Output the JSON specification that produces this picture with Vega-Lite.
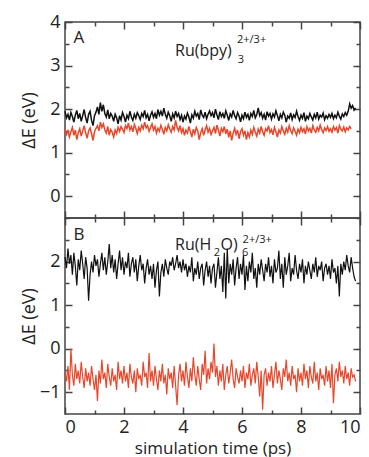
{
"$schema": "https://vega.github.io/schema/vega-lite/v6.json",
"padding": {"left": 19, "top": 12, "right": 2, "bottom": 0},
"spacing": 0,
"bounds": "flush",
"config": {
  "view": {"stroke": "#444", "strokeWidth": 1.5},
  "font": "Open Sans",
  "axis": {"domain": false, "grid": false, "labelFont": "Open Sans", "labelFontSize": 18, "titleFont": "Open Sans", "titleFontSize": 18, "titleFontWeight": "normal", "tickColor": "#444", "tickWidth": 1.5, "labelColor": "#222", "titleColor": "#222"},
  "text": {"font": "Open Sans", "color": "#222"}
},
"datasets": {
"lab": [
{"p":"A","k":"big","x":0.47,"y":3.63,"txt":"A"},
{"p":"A","k":"main","x":3.73,"y":3.33,"txt":"Ru(bpy)"},
{"p":"A","k":"small","x":5.86,"y":3.12,"txt":"3"},
{"p":"A","k":"small","x":5.83,"y":3.58,"txt":"2+/3+"},
{"p":"B","k":"big","x":0.47,"y":2.61,"txt":"B"},
{"p":"B","k":"main","x":3.73,"y":2.38,"txt":"Ru(H"},
{"p":"B","k":"small","x":5.04,"y":2.2,"txt":"2"},
{"p":"B","k":"main","x":5.27,"y":2.38,"txt":"O)"},
{"p":"B","k":"small","x":6.0,"y":2.2,"txt":"6"},
{"p":"B","k":"small","x":6.02,"y":2.49,"txt":"2+/3+"}
],
"d": [
{"t":0,"a1":1.95,"a2":1.55,"b1":2.10,"b2":-0.55},
{"t":0.05,"a1":1.80,"a2":1.42,"b1":1.85,"b2":-0.75},
{"t":0.1,"a1":1.88,"a2":1.50,"b1":2.30,"b2":-0.40},
{"t":0.15,"a1":1.75,"a2":1.36,"b1":1.95,"b2":-0.95},
{"t":0.2,"a1":1.92,"a2":1.48,"b1":2.15,"b2":0.00},
{"t":0.25,"a1":1.83,"a2":1.58,"b1":1.70,"b2":-0.60},
{"t":0.3,"a1":1.70,"a2":1.40,"b1":2.20,"b2":-0.85},
{"t":0.35,"a1":1.86,"a2":1.52,"b1":1.90,"b2":-0.35},
{"t":0.4,"a1":1.97,"a2":1.30,"b1":1.45,"b2":-0.70},
{"t":0.45,"a1":1.78,"a2":1.46,"b1":2.05,"b2":-0.50},
{"t":0.5,"a1":1.90,"a2":1.55,"b1":1.80,"b2":-0.80},
{"t":0.55,"a1":1.72,"a2":1.38,"b1":2.25,"b2":-0.30},
{"t":0.6,"a1":1.85,"a2":1.50,"b1":1.95,"b2":-0.65},
{"t":0.65,"a1":1.99,"a2":1.62,"b1":1.60,"b2":-0.90},
{"t":0.7,"a1":1.80,"a2":1.45,"b1":2.10,"b2":-0.45},
{"t":0.75,"a1":1.68,"a2":1.33,"b1":1.85,"b2":-0.75},
{"t":0.8,"a1":1.88,"a2":1.50,"b1":1.10,"b2":-0.55},
{"t":0.85,"a1":1.95,"a2":1.57,"b1":1.70,"b2":-0.85},
{"t":0.9,"a1":1.74,"a2":1.44,"b1":2.00,"b2":-0.40},
{"t":0.95,"a1":1.62,"a2":1.28,"b1":1.75,"b2":-0.70},
{"t":1,"a1":1.85,"a2":1.48,"b1":2.15,"b2":-0.95},
{"t":1.05,"a1":1.93,"a2":1.56,"b1":1.90,"b2":-0.60},
{"t":1.1,"a1":2.05,"a2":1.62,"b1":2.05,"b2":-1.20},
{"t":1.15,"a1":1.88,"a2":1.50,"b1":1.65,"b2":-0.50},
{"t":1.2,"a1":2.15,"a2":1.70,"b1":1.95,"b2":-0.80},
{"t":1.25,"a1":1.95,"a2":1.58,"b1":2.20,"b2":-0.25},
{"t":1.3,"a1":2.10,"a2":1.66,"b1":1.80,"b2":-0.70},
{"t":1.35,"a1":1.90,"a2":1.52,"b1":2.10,"b2":-0.55},
{"t":1.4,"a1":1.82,"a2":1.45,"b1":1.70,"b2":-0.90},
{"t":1.45,"a1":1.98,"a2":1.60,"b1":2.00,"b2":-0.35},
{"t":1.5,"a1":1.78,"a2":1.40,"b1":2.40,"b2":-0.65},
{"t":1.55,"a1":1.90,"a2":1.53,"b1":1.85,"b2":-0.85},
{"t":1.6,"a1":1.84,"a2":1.47,"b1":2.15,"b2":-0.45},
{"t":1.65,"a1":1.72,"a2":1.36,"b1":1.75,"b2":-0.75},
{"t":1.7,"a1":1.88,"a2":1.52,"b1":2.05,"b2":-0.60},
{"t":1.75,"a1":1.80,"a2":1.44,"b1":1.60,"b2":-0.95},
{"t":1.8,"a1":1.66,"a2":1.58,"b1":1.95,"b2":-0.30},
{"t":1.85,"a1":1.85,"a2":1.49,"b1":2.25,"b2":-0.70},
{"t":1.9,"a1":1.75,"a2":1.60,"b1":1.80,"b2":-0.50},
{"t":1.95,"a1":1.92,"a2":1.54,"b1":2.10,"b2":-0.80},
{"t":2,"a1":1.83,"a2":1.46,"b1":1.70,"b2":-0.40},
{"t":2.05,"a1":1.70,"a2":1.62,"b1":2.00,"b2":-0.75},
{"t":2.1,"a1":1.86,"a2":1.55,"b1":1.85,"b2":-0.55},
{"t":2.15,"a1":1.78,"a2":1.68,"b1":2.20,"b2":-0.90},
{"t":2.2,"a1":1.95,"a2":1.52,"b1":1.65,"b2":-0.35},
{"t":2.25,"a1":1.82,"a2":1.60,"b1":1.95,"b2":-0.65},
{"t":2.3,"a1":1.74,"a2":1.48,"b1":2.10,"b2":-0.80},
{"t":2.35,"a1":1.88,"a2":1.65,"b1":1.75,"b2":-0.50},
{"t":2.4,"a1":1.79,"a2":1.56,"b1":2.05,"b2":-1.00},
{"t":2.45,"a1":1.92,"a2":1.44,"b1":1.55,"b2":-0.45},
{"t":2.5,"a1":1.85,"a2":1.58,"b1":1.90,"b2":-0.70},
{"t":2.55,"a1":1.76,"a2":1.50,"b1":2.15,"b2":-0.60},
{"t":2.6,"a1":1.90,"a2":1.63,"b1":1.80,"b2":-0.85},
{"t":2.65,"a1":1.83,"a2":1.55,"b1":1.95,"b2":-0.30},
{"t":2.7,"a1":1.97,"a2":1.70,"b1":1.50,"b2":-0.65},
{"t":2.75,"a1":1.80,"a2":1.57,"b1":1.85,"b2":-0.55},
{"t":2.8,"a1":1.88,"a2":1.62,"b1":2.05,"b2":-0.90},
{"t":2.85,"a1":1.73,"a2":1.49,"b1":1.70,"b2":-0.10},
{"t":2.9,"a1":1.86,"a2":1.58,"b1":1.90,"b2":-0.75},
{"t":2.95,"a1":1.94,"a2":1.66,"b1":1.60,"b2":-0.50},
{"t":3,"a1":1.81,"a2":1.52,"b1":1.95,"b2":-0.85},
{"t":3.05,"a1":1.90,"a2":1.60,"b1":1.40,"b2":-0.40},
{"t":3.1,"a1":1.78,"a2":1.45,"b1":1.80,"b2":-0.70},
{"t":3.15,"a1":1.99,"a2":1.56,"b1":2.00,"b2":-0.95},
{"t":3.2,"a1":1.86,"a2":1.49,"b1":1.20,"b2":-0.50},
{"t":3.25,"a1":1.95,"a2":1.63,"b1":1.75,"b2":-0.75},
{"t":3.3,"a1":1.84,"a2":1.54,"b1":1.95,"b2":-0.35},
{"t":3.35,"a1":2.02,"a2":1.42,"b1":1.65,"b2":-0.80},
{"t":3.4,"a1":1.88,"a2":1.58,"b1":2.05,"b2":-0.60},
{"t":3.45,"a1":1.79,"a2":1.50,"b1":1.85,"b2":-1.05},
{"t":3.5,"a1":1.93,"a2":1.64,"b1":1.70,"b2":-0.45},
{"t":3.55,"a1":1.85,"a2":1.55,"b1":2.00,"b2":-0.70},
{"t":3.6,"a1":1.72,"a2":1.47,"b1":1.90,"b2":-0.55},
{"t":3.65,"a1":1.89,"a2":1.60,"b1":2.10,"b2":-0.90},
{"t":3.7,"a1":1.80,"a2":1.52,"b1":1.80,"b2":-0.40},
{"t":3.75,"a1":1.95,"a2":1.74,"b1":1.95,"b2":-0.85},
{"t":3.8,"a1":1.83,"a2":1.58,"b1":2.15,"b2":-1.30},
{"t":3.85,"a1":1.90,"a2":1.50,"b1":1.85,"b2":-0.60},
{"t":3.9,"a1":1.76,"a2":1.62,"b1":2.00,"b2":-0.35},
{"t":3.95,"a1":1.86,"a2":1.46,"b1":1.75,"b2":-0.75},
{"t":4,"a1":1.70,"a2":1.55,"b1":2.05,"b2":-0.50},
{"t":4.05,"a1":1.84,"a2":1.40,"b1":1.80,"b2":-0.85},
{"t":4.1,"a1":1.77,"a2":1.52,"b1":1.95,"b2":-0.30},
{"t":4.15,"a1":1.91,"a2":1.45,"b1":1.65,"b2":-0.65},
{"t":4.2,"a1":1.82,"a2":1.60,"b1":1.90,"b2":-0.90},
{"t":4.25,"a1":1.68,"a2":1.48,"b1":1.75,"b2":-0.45},
{"t":4.3,"a1":1.87,"a2":1.36,"b1":2.10,"b2":-0.75},
{"t":4.35,"a1":1.79,"a2":1.54,"b1":1.55,"b2":-0.20},
{"t":4.4,"a1":1.95,"a2":1.43,"b1":1.85,"b2":-0.60},
{"t":4.45,"a1":1.84,"a2":1.58,"b1":1.70,"b2":-0.85},
{"t":4.5,"a1":1.90,"a2":1.50,"b1":2.00,"b2":-0.40},
{"t":4.55,"a1":1.76,"a2":1.30,"b1":1.60,"b2":-0.70},
{"t":4.6,"a1":1.98,"a2":1.46,"b1":1.85,"b2":-0.95},
{"t":4.65,"a1":1.86,"a2":1.55,"b1":1.95,"b2":-0.35},
{"t":4.7,"a1":1.81,"a2":1.40,"b1":1.45,"b2":-0.60},
{"t":4.75,"a1":1.93,"a2":1.52,"b1":1.80,"b2":-0.05},
{"t":4.8,"a1":1.78,"a2":1.62,"b1":2.00,"b2":-0.80},
{"t":4.85,"a1":1.88,"a2":1.47,"b1":1.65,"b2":-0.45},
{"t":4.9,"a1":1.96,"a2":1.56,"b1":1.90,"b2":-0.70},
{"t":4.95,"a1":1.85,"a2":1.42,"b1":1.50,"b2":-0.30},
{"t":5,"a1":1.92,"a2":1.50,"b1":1.85,"b2":-0.55},
{"t":5.05,"a1":1.80,"a2":1.58,"b1":1.95,"b2":0.12},
{"t":5.1,"a1":2.00,"a2":1.44,"b1":1.40,"b2":-0.65},
{"t":5.15,"a1":1.87,"a2":1.63,"b1":1.75,"b2":-0.40},
{"t":5.2,"a1":1.76,"a2":1.52,"b1":2.10,"b2":-0.85},
{"t":5.25,"a1":1.94,"a2":1.38,"b1":1.60,"b2":-0.50},
{"t":5.3,"a1":1.83,"a2":1.56,"b1":1.90,"b2":-0.75},
{"t":5.35,"a1":1.90,"a2":1.48,"b1":1.30,"b2":-0.35},
{"t":5.4,"a1":1.79,"a2":1.60,"b1":2.20,"b2":-0.95},
{"t":5.45,"a1":1.96,"a2":1.43,"b1":1.15,"b2":-0.60},
{"t":5.5,"a1":1.86,"a2":1.54,"b1":2.30,"b2":-0.40},
{"t":5.55,"a1":1.74,"a2":1.35,"b1":1.50,"b2":-0.80},
{"t":5.6,"a1":1.89,"a2":1.50,"b1":1.95,"b2":-0.55},
{"t":5.65,"a1":1.82,"a2":1.28,"b1":1.70,"b2":-0.25},
{"t":5.7,"a1":1.97,"a2":1.45,"b1":2.05,"b2":-0.70},
{"t":5.75,"a1":1.85,"a2":1.56,"b1":1.45,"b2":-0.90},
{"t":5.8,"a1":1.78,"a2":1.42,"b1":1.85,"b2":-0.45},
{"t":5.85,"a1":1.92,"a2":1.52,"b1":2.10,"b2":-0.65},
{"t":5.9,"a1":1.84,"a2":1.32,"b1":1.60,"b2":-0.80},
{"t":5.95,"a1":1.71,"a2":1.48,"b1":1.95,"b2":-0.50},
{"t":6,"a1":1.86,"a2":1.55,"b1":1.70,"b2":-0.75},
{"t":6.05,"a1":1.78,"a2":1.40,"b1":2.15,"b2":-0.40},
{"t":6.1,"a1":1.93,"a2":1.50,"b1":1.35,"b2":-0.90},
{"t":6.15,"a1":1.81,"a2":1.30,"b1":1.90,"b2":-0.55},
{"t":6.2,"a1":1.88,"a2":1.46,"b1":1.55,"b2":-0.70},
{"t":6.25,"a1":1.74,"a2":1.36,"b1":2.00,"b2":-0.35},
{"t":6.3,"a1":1.90,"a2":1.52,"b1":1.75,"b2":-0.85},
{"t":6.35,"a1":1.83,"a2":1.42,"b1":2.20,"b2":-0.60},
{"t":6.4,"a1":1.97,"a2":1.58,"b1":1.60,"b2":-0.45},
{"t":6.45,"a1":1.80,"a2":1.47,"b1":1.85,"b2":-0.80},
{"t":6.5,"a1":1.87,"a2":1.38,"b1":1.40,"b2":-0.30},
{"t":6.55,"a1":2.03,"a2":1.54,"b1":1.95,"b2":-0.65},
{"t":6.6,"a1":1.85,"a2":1.45,"b1":1.70,"b2":-1.10},
{"t":6.65,"a1":1.92,"a2":1.60,"b1":2.05,"b2":-0.50},
{"t":6.7,"a1":1.79,"a2":1.48,"b1":1.80,"b2":-1.40},
{"t":6.75,"a1":1.88,"a2":1.40,"b1":1.55,"b2":-0.60},
{"t":6.8,"a1":1.75,"a2":1.55,"b1":1.95,"b2":-0.45},
{"t":6.85,"a1":1.94,"a2":1.50,"b1":1.75,"b2":-0.85},
{"t":6.9,"a1":1.84,"a2":1.62,"b1":2.10,"b2":-0.55},
{"t":6.95,"a1":1.90,"a2":1.46,"b1":1.65,"b2":-0.75},
{"t":7,"a1":1.77,"a2":1.53,"b1":1.90,"b2":-0.40},
{"t":7.05,"a1":1.89,"a2":1.41,"b1":1.50,"b2":-0.90},
{"t":7.1,"a1":1.82,"a2":1.58,"b1":2.05,"b2":-0.60},
{"t":7.15,"a1":1.96,"a2":1.48,"b1":1.75,"b2":-0.30},
{"t":7.2,"a1":1.85,"a2":1.36,"b1":1.85,"b2":-0.80},
{"t":7.25,"a1":1.73,"a2":1.52,"b1":2.25,"b2":-0.50},
{"t":7.3,"a1":1.88,"a2":1.45,"b1":1.60,"b2":-0.70},
{"t":7.35,"a1":1.80,"a2":1.60,"b1":1.95,"b2":-0.95},
{"t":7.4,"a1":1.93,"a2":1.50,"b1":1.40,"b2":-0.45},
{"t":7.45,"a1":1.86,"a2":1.42,"b1":2.10,"b2":-0.65},
{"t":7.5,"a1":1.70,"a2":1.56,"b1":1.70,"b2":-0.25},
{"t":7.55,"a1":1.84,"a2":1.47,"b1":1.90,"b2":-0.75},
{"t":7.6,"a1":1.79,"a2":1.62,"b1":2.20,"b2":-0.55},
{"t":7.65,"a1":1.91,"a2":1.51,"b1":1.55,"b2":-0.85},
{"t":7.7,"a1":1.76,"a2":1.44,"b1":1.85,"b2":-0.40},
{"t":7.75,"a1":1.87,"a2":1.57,"b1":1.70,"b2":-0.70},
{"t":7.8,"a1":1.81,"a2":1.49,"b1":2.15,"b2":-0.60},
{"t":7.85,"a1":1.95,"a2":1.40,"b1":1.80,"b2":-1.00},
{"t":7.9,"a1":1.83,"a2":1.54,"b1":1.60,"b2":-0.45},
{"t":7.95,"a1":1.74,"a2":1.46,"b1":1.95,"b2":-0.75},
{"t":8,"a1":1.86,"a2":1.58,"b1":1.75,"b2":-0.55},
{"t":8.05,"a1":1.79,"a2":1.48,"b1":2.05,"b2":-0.85},
{"t":8.1,"a1":1.92,"a2":1.55,"b1":1.50,"b2":-0.35},
{"t":8.15,"a1":1.72,"a2":1.43,"b1":1.90,"b2":-0.70},
{"t":8.2,"a1":1.84,"a2":1.60,"b1":1.70,"b2":-0.50},
{"t":8.25,"a1":1.78,"a2":1.50,"b1":2.00,"b2":-0.90},
{"t":8.3,"a1":1.90,"a2":1.56,"b1":1.80,"b2":-0.40},
{"t":8.35,"a1":1.82,"a2":1.45,"b1":1.60,"b2":-0.65},
{"t":8.4,"a1":1.75,"a2":1.62,"b1":1.95,"b2":-0.80},
{"t":8.45,"a1":1.88,"a2":1.52,"b1":1.75,"b2":-0.30},
{"t":8.5,"a1":1.80,"a2":1.47,"b1":2.10,"b2":-0.75},
{"t":8.55,"a1":1.93,"a2":1.58,"b1":1.65,"b2":-0.55},
{"t":8.6,"a1":1.77,"a2":1.50,"b1":1.90,"b2":-0.95},
{"t":8.65,"a1":1.86,"a2":1.63,"b1":1.80,"b2":-0.45},
{"t":8.7,"a1":1.82,"a2":1.53,"b1":2.00,"b2":-0.70},
{"t":8.75,"a1":1.91,"a2":1.46,"b1":1.55,"b2":-0.60},
{"t":8.8,"a1":1.76,"a2":1.57,"b1":1.85,"b2":-0.85},
{"t":8.85,"a1":1.85,"a2":1.51,"b1":1.95,"b2":-0.40},
{"t":8.9,"a1":1.79,"a2":1.60,"b1":1.70,"b2":-0.75},
{"t":8.95,"a1":1.88,"a2":1.49,"b1":1.90,"b2":-0.50},
{"t":9,"a1":1.81,"a2":1.55,"b1":1.60,"b2":-0.90},
{"t":9.05,"a1":1.90,"a2":1.47,"b1":2.05,"b2":-0.35},
{"t":9.1,"a1":1.78,"a2":1.60,"b1":1.75,"b2":-1.25},
{"t":9.15,"a1":1.86,"a2":1.52,"b1":1.85,"b2":-0.60},
{"t":9.2,"a1":1.80,"a2":1.58,"b1":1.50,"b2":-0.45},
{"t":9.25,"a1":1.93,"a2":1.45,"b1":1.90,"b2":-0.75},
{"t":9.3,"a1":1.84,"a2":1.62,"b1":1.20,"b2":-0.30},
{"t":9.35,"a1":1.77,"a2":1.54,"b1":1.95,"b2":-0.65},
{"t":9.4,"a1":1.89,"a2":1.50,"b1":1.70,"b2":-0.50},
{"t":9.45,"a1":1.83,"a2":1.59,"b1":2.00,"b2":-0.80},
{"t":9.5,"a1":1.92,"a2":1.48,"b1":1.80,"b2":-0.40},
{"t":9.55,"a1":1.86,"a2":1.57,"b1":2.15,"b2":-0.70},
{"t":9.6,"a1":1.95,"a2":1.52,"b1":1.90,"b2":-0.55},
{"t":9.65,"a1":2.12,"a2":1.60,"b1":1.75,"b2":-0.85},
{"t":9.7,"a1":2.02,"a2":1.55,"b1":2.10,"b2":-0.45},
{"t":9.75,"a1":2.08,"a2":null,"b1":1.85,"b2":-0.65},
{"t":9.8,"a1":1.98,"a2":null,"b1":1.65,"b2":-0.60},
{"t":9.85,"a1":2.03,"a2":null,"b1":1.55,"b2":-0.75}
]
},
"vconcat": [
{
  "width": 295, "height": 196,
  "layer": [
    {
      "data": {"name": "d"},
      "transform": [{"fold": ["a1", "a2"], "as": ["s", "v"]}],
      "mark": {"type": "line", "strokeWidth": 1.5},
      "encoding": {
        "x": {"field": "t", "type": "quantitative", "scale": {"domain": [0, 10], "nice": false}, "axis": {"orient": "bottom", "values": [0,2,4,6,8,10], "labels": false, "title": null, "tickSize": -7}},
        "y": {"field": "v", "type": "quantitative", "scale": {"domain": [-0.5, 4], "nice": false, "zero": false}, "axis": {"orient": "left", "values": [0,1,2,3,4], "title": "ΔE (eV)", "tickSize": -7, "labelPadding": 12, "titleX": -27}},
        "color": {"field": "s", "type": "nominal", "scale": {"domain": ["a1", "a2"], "range": ["#111111", "#e8472b"]}, "legend": null}
      }
    },
    {
      "data": {"name": "lab"},
      "transform": [{"filter": "datum.p == 'A' && datum.k == 'big'"}],
      "mark": {"type": "text", "fontSize": 17, "align": "center", "baseline": "middle"},
      "encoding": {
        "x": {"field": "x", "type": "quantitative", "axis": {"orient": "bottom", "values": [1,3,5,7,9], "labels": false, "title": null, "tickSize": -4}},
        "y": {"field": "y", "type": "quantitative", "axis": {"orient": "left", "values": [-0.5,0.5,1.5,2.5,3.5], "labels": false, "title": null, "tickSize": -4}},
        "text": {"field": "txt"}
      }
    },
    {
      "data": {"name": "lab"},
      "transform": [{"filter": "datum.p == 'A' && datum.k == 'main'"}],
      "mark": {"type": "text", "fontSize": 16, "align": "left", "baseline": "middle"},
      "encoding": {
        "x": {"field": "x", "type": "quantitative", "axis": {"orient": "top", "values": [0,2,4,6,8,10], "labels": false, "title": null, "tickSize": -7}},
        "y": {"field": "y", "type": "quantitative", "axis": {"orient": "right", "values": [0,1,2,3,4], "labels": false, "title": null, "tickSize": -7}},
        "text": {"field": "txt"}
      }
    },
    {
      "data": {"name": "lab"},
      "transform": [{"filter": "datum.p == 'A' && datum.k == 'small'"}],
      "mark": {"type": "text", "fontSize": 11, "align": "left", "baseline": "middle"},
      "encoding": {
        "x": {"field": "x", "type": "quantitative", "axis": {"orient": "top", "values": [1,3,5,7,9], "labels": false, "title": null, "tickSize": -4}},
        "y": {"field": "y", "type": "quantitative", "axis": {"orient": "right", "values": [-0.5,0.5,1.5,2.5,3.5], "labels": false, "title": null, "tickSize": -4}},
        "text": {"field": "txt"}
      }
    }
  ],
  "resolve": {"axis": {"x": "independent", "y": "independent"}}
},
{
  "width": 295, "height": 196,
  "layer": [
    {
      "data": {"name": "d"},
      "transform": [{"fold": ["b1", "b2"], "as": ["s", "v"]}],
      "mark": {"type": "line", "strokeWidth": 1.2},
      "encoding": {
        "x": {"field": "t", "type": "quantitative", "scale": {"domain": [0, 10], "nice": false}, "axis": {"orient": "bottom", "values": [0,2,4,6,8,10], "title": "simulation time (ps)", "titleFontSize": 17, "tickSize": -7, "labelPadding": 11, "titlePadding": 4}},
        "y": {"field": "v", "type": "quantitative", "scale": {"domain": [-1.5, 3], "nice": false, "zero": false}, "axis": {"orient": "left", "values": [-1,0,1,2], "title": "ΔE (eV)", "tickSize": -7, "labelPadding": 12, "titleX": -27}},
        "color": {"field": "s", "type": "nominal", "scale": {"domain": ["b1", "b2"], "range": ["#111111", "#e8472b"]}, "legend": null}
      }
    },
    {
      "data": {"name": "lab"},
      "transform": [{"filter": "datum.p == 'B' && datum.k == 'big'"}],
      "mark": {"type": "text", "fontSize": 17, "align": "center", "baseline": "middle"},
      "encoding": {
        "x": {"field": "x", "type": "quantitative", "axis": {"orient": "bottom", "values": [1,3,5,7,9], "labels": false, "title": null, "tickSize": -4}},
        "y": {"field": "y", "type": "quantitative", "axis": {"orient": "left", "values": [-0.5,0.5,1.5,2.5], "labels": false, "title": null, "tickSize": -4}},
        "text": {"field": "txt"}
      }
    },
    {
      "data": {"name": "lab"},
      "transform": [{"filter": "datum.p == 'B' && datum.k == 'main'"}],
      "mark": {"type": "text", "fontSize": 16, "align": "left", "baseline": "middle"},
      "encoding": {
        "x": {"field": "x", "type": "quantitative", "axis": {"orient": "top", "values": [0,2,4,6,8,10], "labels": false, "title": null, "tickSize": -7}},
        "y": {"field": "y", "type": "quantitative", "axis": {"orient": "right", "values": [-1,0,1,2], "labels": false, "title": null, "tickSize": -7}},
        "text": {"field": "txt"}
      }
    },
    {
      "data": {"name": "lab"},
      "transform": [{"filter": "datum.p == 'B' && datum.k == 'small'"}],
      "mark": {"type": "text", "fontSize": 11, "align": "left", "baseline": "middle"},
      "encoding": {
        "x": {"field": "x", "type": "quantitative", "axis": {"orient": "top", "values": [1,3,5,7,9], "labels": false, "title": null, "tickSize": -4}},
        "y": {"field": "y", "type": "quantitative", "axis": {"orient": "right", "values": [-0.5,0.5,1.5,2.5], "labels": false, "title": null, "tickSize": -4}},
        "text": {"field": "txt"}
      }
    }
  ],
  "resolve": {"axis": {"x": "independent", "y": "independent"}}
}
]
}
